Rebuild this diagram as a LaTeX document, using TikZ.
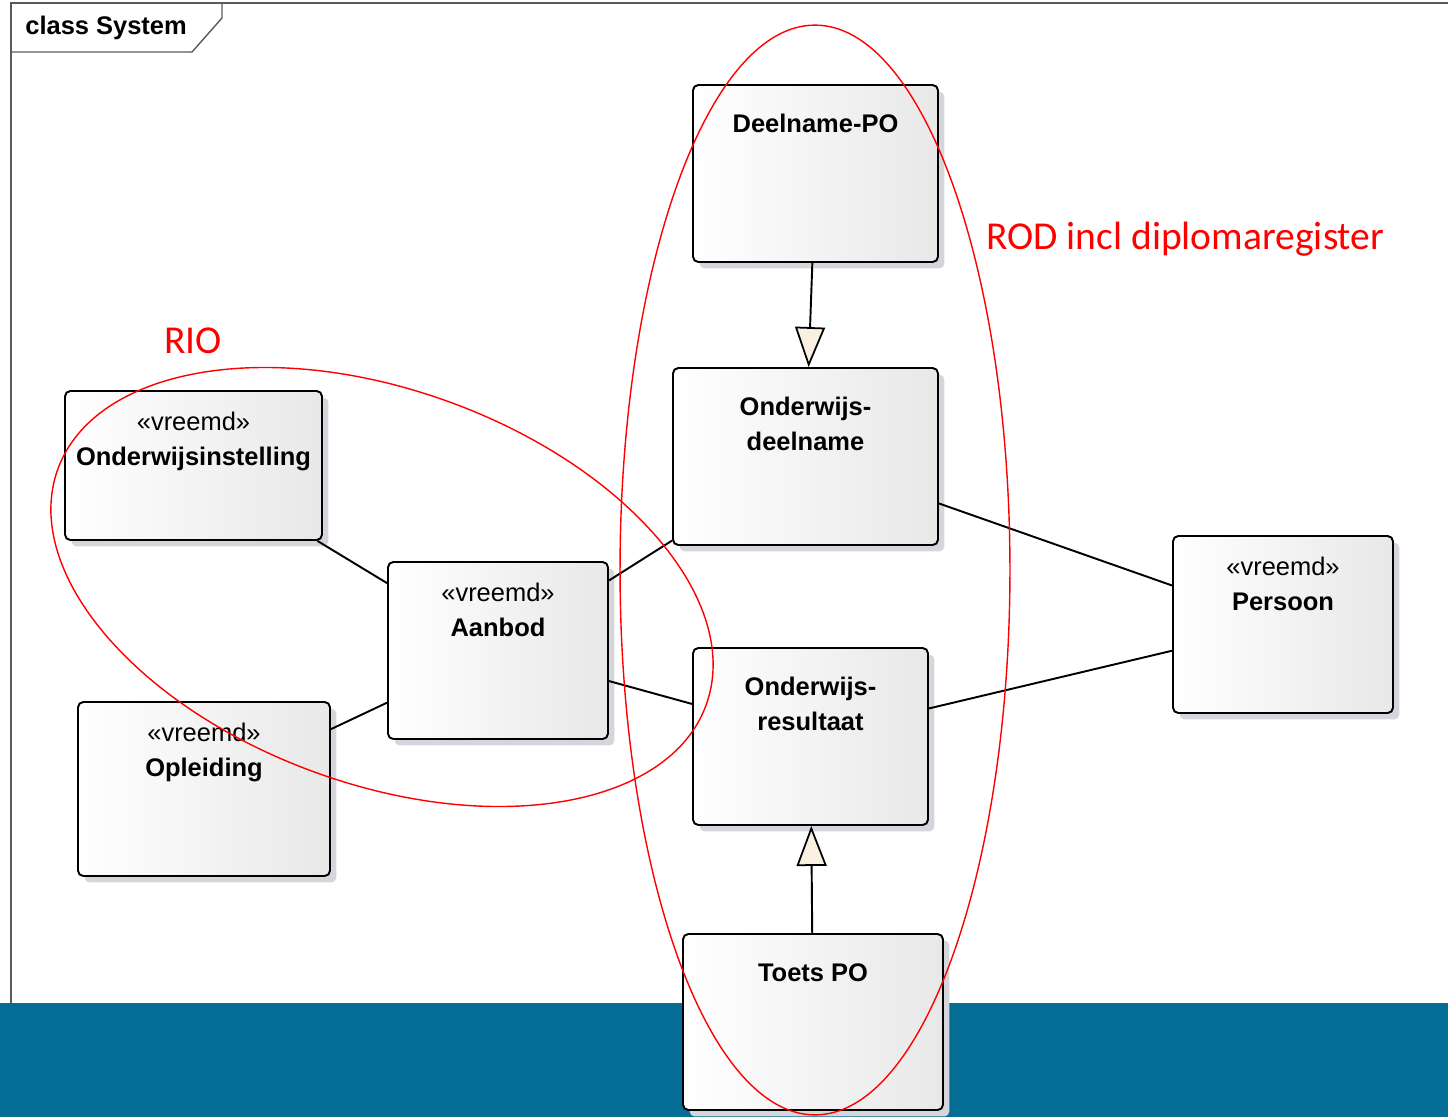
\documentclass[tikz,border=0pt]{standalone}
\usepackage{fontspec}
\setmainfont{Liberation Sans}
\newfontfamily\calibrifont{Carlito}
\usepackage{tikz}
\usetikzlibrary{arrows.meta,positioning,shadows}

\definecolor{bandblue}{RGB}{4,110,150}
\definecolor{shadowgrey}{RGB}{212,214,220}
\definecolor{tipcream}{RGB}{250,240,225}
\definecolor{framegrey}{RGB}{90,90,90}

\begin{document}
\begin{tikzpicture}[
      x=0.02cm, y=-0.02cm,
      classbox/.style={
         rectangle,
         rounded corners=3pt,
         draw=black,
         line width=1.1pt,
         left color=white,
         right color=gray!18,
         drop shadow={shadow xshift=0.13cm, shadow yshift=-0.13cm,
                      fill=shadowgrey, opacity=1},
         minimum height=3.54cm},
      classtxt/.style={
         align=center,
         inner sep=0pt,
         font=\fontsize{14.5}{19.5}\selectfont},
      assoc/.style={line width=1.1pt},
      genarrow/.style={line width=1.1pt,
         -{Triangle[length=0.8cm,width=0.6cm,fill=tipcream,line width=1pt]}},
      ring/.style={draw=red, line width=0.8pt},
      note/.style={text=red, inner sep=0pt,
         font=\calibrifont\fontsize{22.5}{27}\selectfont}
      ]
      \useasboundingbox (0,0) rectangle (1448,1117);

      % band and frame
      \fill[bandblue] (0,1003) rectangle (1448,1117);
      \draw[framegrey, line width=0.8pt] (11,1003) -- (11,3) -- (1448,3);
      \draw[framegrey, line width=0.8pt] (11,52) -- (192,52) -- (222,18) -- (222,3);
      \node[anchor=west, inner sep=0pt, font=\bfseries\fontsize{14.5}{17}\selectfont]
         (framelabel) at (25,28) {class System};

      % classes
      \node[classbox, minimum width=4.9cm] (deelnamepo) at (815.5,173.5) {};
      \node[classbox, minimum width=5.3cm] (odeelname) at (805.5,456.5) {};
      \node[classbox, minimum width=4.7cm] (oresultaat) at (810.5,736.5) {};
      \node[classbox, minimum width=5.2cm, minimum height=3.52cm] (toetspo) at (813,1022) {};
      \node[classbox, minimum width=5.14cm, minimum height=2.98cm] (oinstelling) at (193.5,465.5) {};
      \node[classbox, minimum width=4.4cm] (aanbod) at (498,650.5) {};
      \node[classbox, minimum width=5.04cm, minimum height=3.48cm] (opleiding) at (204,789) {};
      \node[classbox, minimum width=4.4cm] (persoon) at (1283,624.5) {};

      \node[classtxt, below=0.6cm of deelnamepo.north] (deelnamepo-t) {\textbf{Deelname-PO}};
      \node[classtxt, below=0.6cm of odeelname.north] (odeelname-t) {\textbf{Onderwijs-}\\\textbf{deelname}};
      \node[classtxt, below=0.6cm of oresultaat.north] (oresultaat-t) {\textbf{Onderwijs-}\\\textbf{resultaat}};
      \node[classtxt, below=0.6cm of toetspo.north] (toetspo-t) {\textbf{Toets PO}};
      \node[classtxt, below=0.44cm of oinstelling.north] (oinstelling-t) {«vreemd»\\\textbf{Onderwijsinstelling}};
      \node[classtxt, below=0.44cm of aanbod.north] (aanbod-t) {«vreemd»\\\textbf{Aanbod}};
      \node[classtxt, below=0.44cm of opleiding.north] (opleiding-t) {«vreemd»\\\textbf{Opleiding}};
      \node[classtxt, below=0.44cm of persoon.north] (persoon-t) {«vreemd»\\\textbf{Persoon}};

      % connectors
      \foreach \i/\j in {oinstelling/aanbod, opleiding/aanbod, aanbod/odeelname,
                         aanbod/oresultaat, odeelname/persoon, oresultaat/persoon}
         \draw[assoc] (\i) -- (\j);
      \draw[genarrow] (deelnamepo) -- (odeelname);
      \draw[genarrow] (toetspo) -- (oresultaat);

      % marked areas
      \draw[ring] (815,570) ellipse [x radius=3.9cm, y radius=10.9cm];
      \draw[ring, rotate around={-20:(382,587)}] (382,587) ellipse [x radius=6.9cm, y radius=3.94cm];
      \node[note] (rio) at (193,341) {RIO};
      \node[note, anchor=west] (rod) at (986,239) {ROD incl diplomaregister};

\end{tikzpicture}
\end{document}
